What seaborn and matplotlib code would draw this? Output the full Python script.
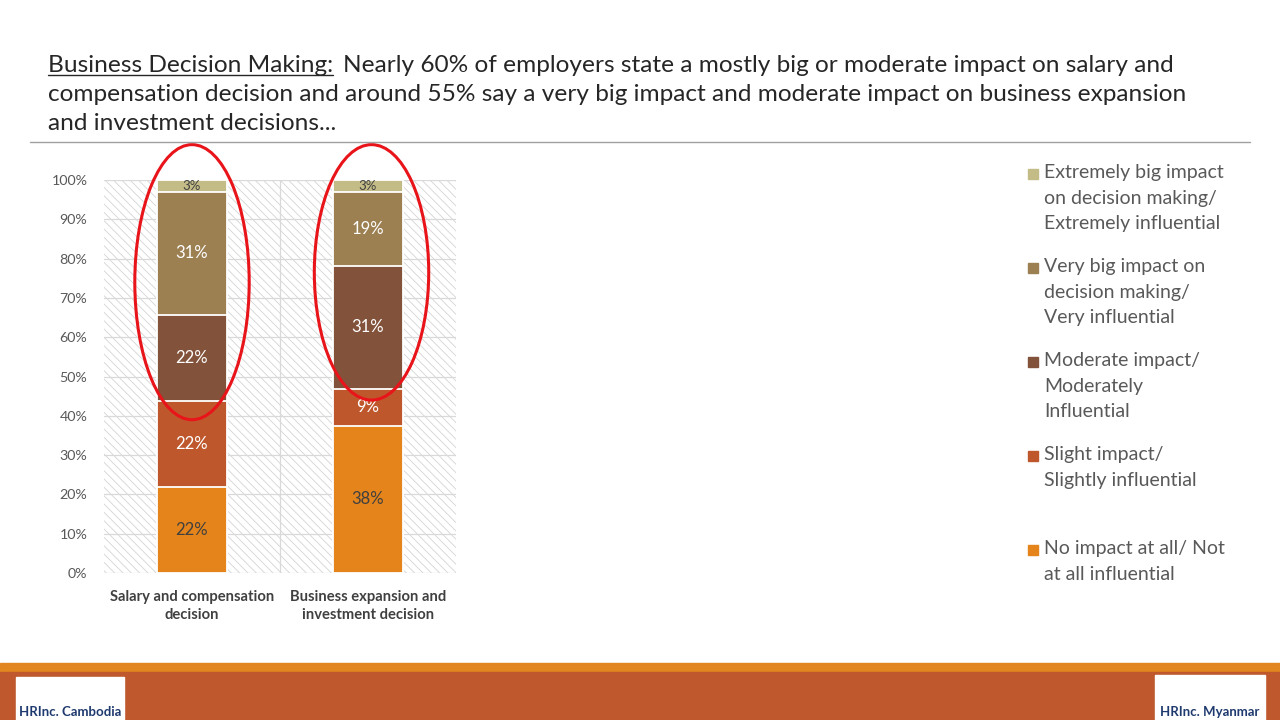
import numpy as np
import pandas as pd
import matplotlib
matplotlib.use('Agg')
import matplotlib.pyplot as plt
import seaborn as sns
from matplotlib.patches import Rectangle, Ellipse

# data (share of employers, %) #
decisions = ['Salary and compensation\ndecision', 'Business expansion and\ninvestment decision']
levels = ['No impact at all/ Not\nat all influential',
          'Slight impact/\nSlightly influential',
          'Moderate impact/\nModerately\nInfluential',
          'Very big impact on\ndecision making/\nVery influential',
          'Extremely big impact\non decision making/\nExtremely influential']
salary = [21.9, 21.9, 21.9, 31.2, 3.1]
business = [37.5, 9.4, 31.3, 18.8, 3.1]
colors = ['#e4841a', '#bf572c', '#82523a', '#9c8052', '#c3bc87']
label_colors = ['#404040', 'white', 'white', 'white', '#404040']
label_colors_b = ['#404040', 'white', 'white', 'white', '#404040']
yticks = [0, 10, 20, 30, 40, 50, 60, 70, 80, 90, 100]

sns.set_theme(style='white')
plt.rcParams['font.family'] = ['Lato', 'DejaVu Sans']
plt.rcParams['hatch.linewidth'] = 0.6

fig = plt.figure(figsize=(12.8, 7.2), dpi=100)
ax = fig.add_axes([104/1280, 1-573/720, 352/1280, 393/720])

# long form with cumulative heights, drawn from top layer down
rows = []
for d, vals in zip(decisions, [salary, business]):
    cum = np.cumsum(vals)
    for lev, v, c in zip(levels, vals, cum):
        rows.append({'decision': d, 'level': lev, 'value': v, 'cum': c})
df = pd.DataFrame(rows)

pal = dict(zip(levels, colors))
sns.barplot(data=df, x='decision', y='cum', hue='level', hue_order=levels[::-1],
            order=decisions, palette=pal, dodge=False, width=0.4, saturation=1,
            edgecolor='white', linewidth=1.3, legend=False, ax=ax, zorder=2)

# hatched plot area
ax.add_patch(Rectangle((-0.5, 0), 2, 100, facecolor='white', edgecolor='#d4d4d4',
                       hatch='\\\\\\\\', lw=0, zorder=0))
ax.set_xlim(-0.5, 1.5)
ax.set_ylim(0, 100)
for y in yticks:
    ax.axhline(y, color='#d9d9d9', lw=0.9, zorder=1)
ax.axvline(0.5, color='#d9d9d9', lw=0.9, zorder=1)
for s in ax.spines.values():
    s.set_visible(False)
ax.set_yticks(yticks)
ax.set_yticklabels([f'{y}%' for y in yticks], color='#595959', fontsize=10.3)
ax.tick_params(axis='y', length=0, pad=12)
ax.tick_params(axis='x', length=0, pad=12)
ax.set_xticks([0, 1])
ax.set_xticklabels(decisions, color='#404040', fontsize=10.6, fontweight='bold', linespacing=1.35)
ax.set_xlabel('')
ax.set_ylabel('')

# segment labels
for i, (vals, lc) in enumerate(zip([salary, business], [label_colors, label_colors_b])):
    bottoms = np.concatenate([[0], np.cumsum(vals)[:-1]])
    for v, b, c in zip(vals, bottoms, lc):
        ax.text(i, b + v/2, f'{v:.0f}%', ha='center', va='center', color=c,
                fontsize=12 if v > 5 else 9.5, zorder=5)

# red ellipses
ax.add_patch(Ellipse((0, 74), 0.65, 70, fill=False, edgecolor='#e8141a', lw=2.2,
                     clip_on=False, zorder=6))
ax.add_patch(Ellipse((1.02, 76.5), 0.65, 65, fill=False, edgecolor='#e8141a', lw=2.2,
                     clip_on=False, zorder=6))

# legend, drawn by hand
for k, (lev, c) in enumerate(zip(levels[::-1], colors[::-1])):
    ytop = 164 + 94*k
    fig.patches.append(Rectangle((1028/1280, 1-(ytop+15)/720), 10/1280, 10/720,
                                 transform=fig.transFigure, color=c))
    fig.text(1044/1280, 1-ytop/720, lev, ha='left', va='top', fontsize=14,
             color='#595959', linespacing=1.62)

# title
tcol = '#262626'
fs = 17.6
fig.canvas.draw()
r = fig.canvas.get_renderer()
t1 = fig.text(48/1280, 1-72/720, 'Business Decision Making:', fontsize=fs, color=tcol, va='baseline')
bb = t1.get_window_extent(r)
inv = fig.transFigure.inverted()
(x0, y0), (x1, y1) = inv.transform([[bb.x0, bb.y0], [bb.x1, bb.y1]])
fig.add_artist(plt.Line2D([x0, x1], [1-75/720, 1-75/720], color=tcol, lw=1, transform=fig.transFigure))
fig.text(x1 + 10/1280, 1-72/720,
         'Nearly 60% of employers state a mostly big or moderate impact on salary and',
         fontsize=fs, color=tcol, va='baseline')
fig.text(48/1280, 1-101/720,
         'compensation decision and around 55% say a very big impact and moderate impact on business expansion',
         fontsize=fs, color=tcol, va='baseline')
fig.text(48/1280, 1-130/720, 'and investment decisions...', fontsize=fs, color=tcol, va='baseline')
fig.add_artist(plt.Line2D([30/1280, 1250/1280], [1-142/720, 1-142/720], color='#a0a0a0', lw=1,
                          transform=fig.transFigure))

# footer
fig.patches.append(Rectangle((0, 1-672/720), 1, 9/720, transform=fig.transFigure, color='#e2861f'))
fig.patches.append(Rectangle((0, 0), 1, 48/720, transform=fig.transFigure, color='#bf582d'))
fig.patches.append(Rectangle((16/1280, 0), 108/1280, 43/720, transform=fig.transFigure, color='white'))
fig.patches.append(Rectangle((1155/1280, 0), 110/1280, 45/720, transform=fig.transFigure, color='white'))
fig.text(70/1280, 2/720, 'HRInc. Cambodia', ha='center', va='bottom', fontsize=9.5,
         fontweight='bold', color='#1f3a6e')
fig.text(1210/1280, 2/720, 'HRInc. Myanmar', ha='center', va='bottom', fontsize=9.5,
         fontweight='bold', color='#1f3a6e')

fig.savefig('out.png', dpi=100)
